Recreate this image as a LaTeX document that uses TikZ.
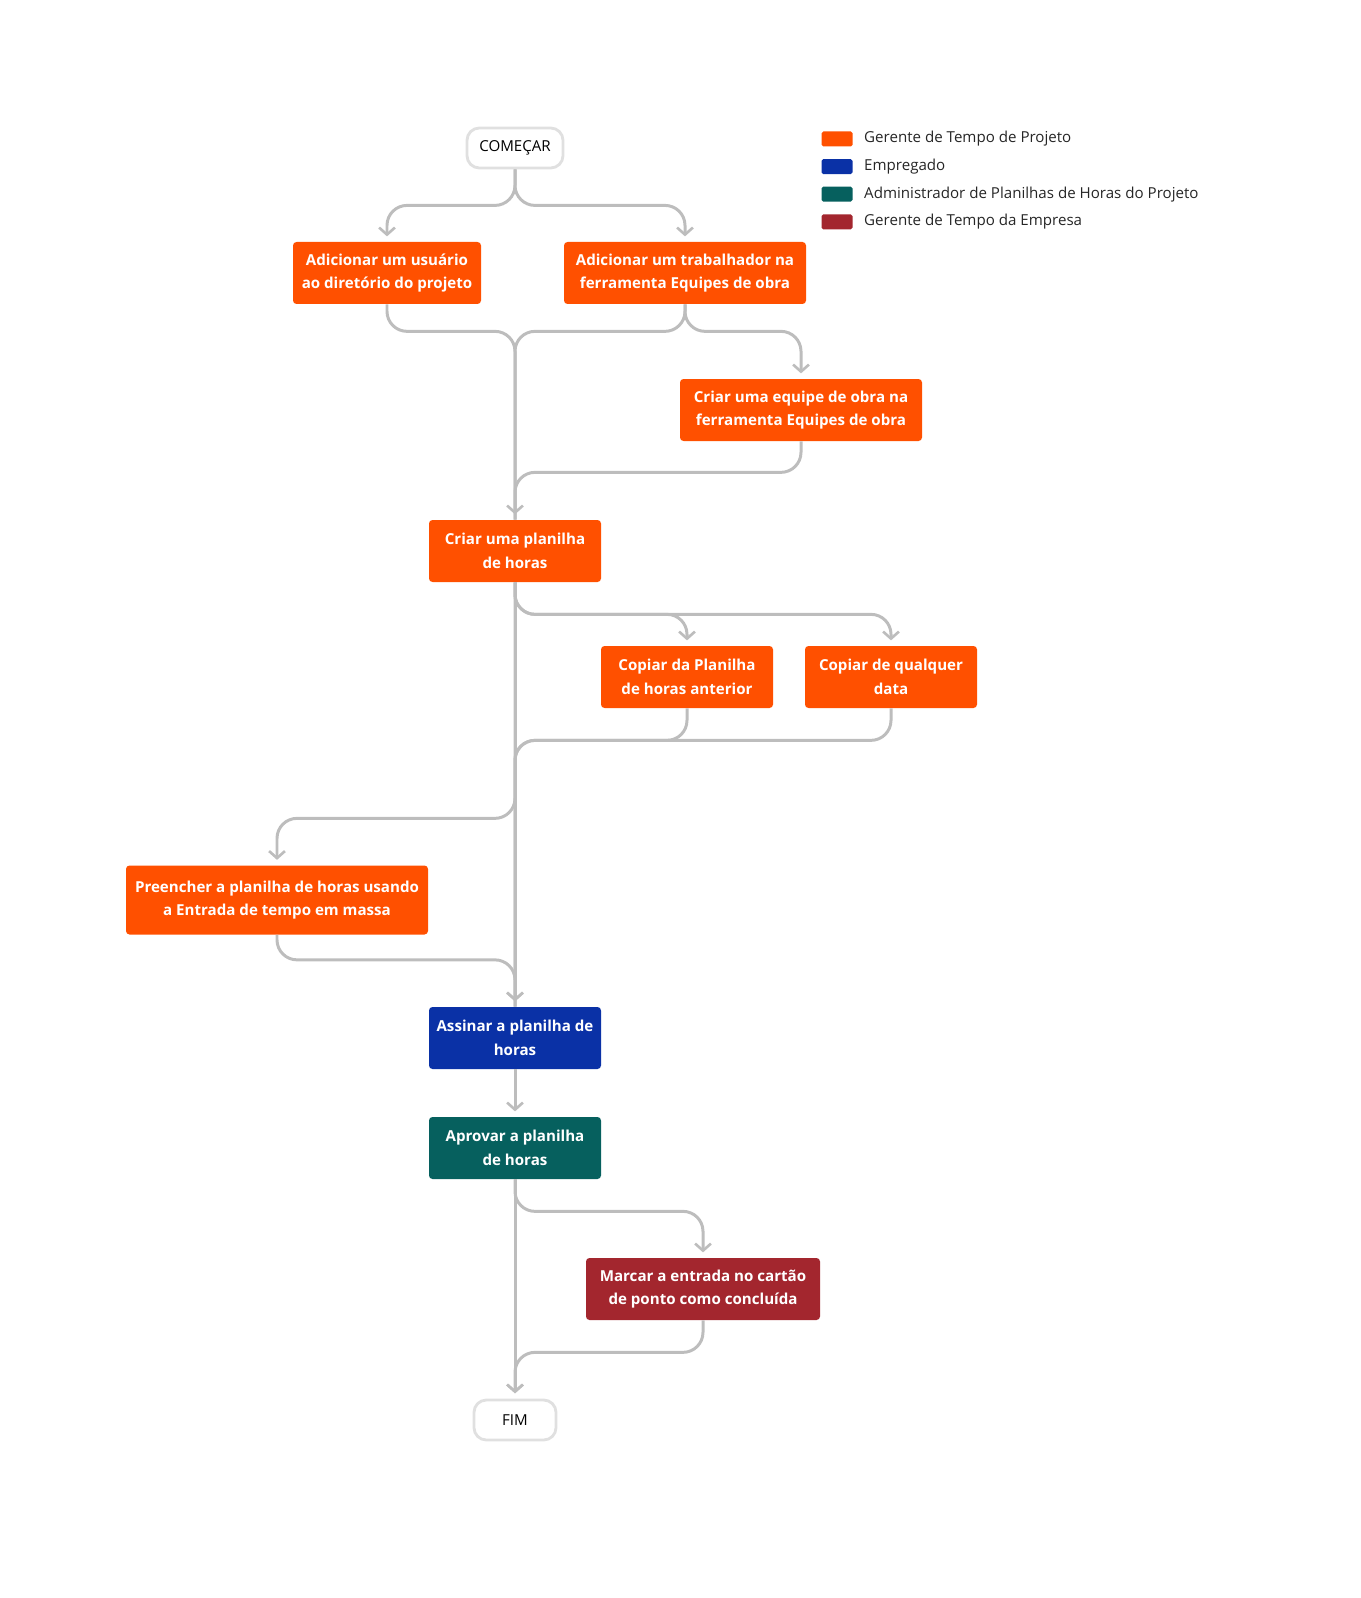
\documentclass[tikz,border=0pt]{standalone}
\usepackage{fontspec}
\setmainfont{Open Sans}
\usetikzlibrary{arrows.meta,positioning,calc}
\definecolor{mgr}{HTML}{FF5000}
\definecolor{emp}{HTML}{0A31A6}
\definecolor{adm}{HTML}{06605E}
\definecolor{cmp}{HTML}{A3262E}
\definecolor{wire}{HTML}{BDBDBD}
\tikzset{
box/.style={rounded corners=2pt,text=white,font=\fontsize{8.6}{13.5}\selectfont\bfseries,align=center,minimum height={62*0.02cm},minimum width={#1*0.02cm},inner sep=1pt},
term/.style={draw=black!12,line width=1.6pt,rounded corners=7pt,fill=white,font=\fontsize{8.6}{11}\selectfont,minimum height={40*0.02cm},minimum width={#1*0.02cm}},
flow/.style={draw=wire,line width=1.7pt,rounded corners=0.4cm},
arr/.style={flow,-{Straight Barb[length=4pt,width=9pt,line width=1.5pt]},shorten >=3pt},
swatch/.style={fill=#1,rounded corners=1pt,minimum width={31*0.02cm},minimum height={15*0.02cm},inner sep=0pt},
legtext/.style={font=\fontsize{8.6}{11}\selectfont,text=black!85,anchor=west,inner sep=0pt},
}
\begin{document}
\begin{tikzpicture}[x=0.02cm,y=-0.02cm]
\useasboundingbox (0,0) rectangle (1360,1598);
% terminais
\node[term=96] (start) at (515,148) {COMEÇAR};
\node[term=82] (end) at (515,1420) {FIM};
% etapas
\node[box=188,fill=mgr] (user) at (387,273) {Adicionar um usuário\\ao diretório do projeto};
\node[box=242,fill=mgr] (worker) at (685,273) {Adicionar um trabalhador na\\ferramenta Equipes de obra};
\node[box=242,fill=mgr] (crew) at (801,410) {Criar uma equipe de obra na\\ferramenta Equipes de obra};
\node[box=172,fill=mgr] (sheet) at (515,551) {Criar uma planilha\\de horas};
\node[box=172,fill=mgr] (copyprev) at (687,677) {Copiar da Planilha\\de horas anterior};
\node[box=172,fill=mgr] (copyany) at (891,677) {Copiar de qualquer\\data};
\node[box=302,fill=mgr,minimum height={69*0.02cm}] (bulk) at (277,900) {Preencher a planilha de horas usando\\a Entrada de tempo em massa};
\node[box=172,fill=emp] (sign) at (515,1038) {Assinar a planilha de\\horas};
\node[box=172,fill=adm] (approve) at (515,1148) {Aprovar a planilha\\de horas};
\node[box=234,fill=cmp] (punch) at (703,1289) {Marcar a entrada no cartão\\de ponto como concluída};
% conexoes
\draw[arr] (start.south) -- ++(0,36) -| (user.north);
\draw[arr] (start.south) -- ++(0,36) -| (worker.north);
\draw[flow] (user.south) -- ++(0,27) -| (sheet.north);
\draw[flow] (worker.south) -- ++(0,27) -| (sheet.north);
\draw[arr] (worker.south) -- ++(0,27) -| (crew.north);
\draw[arr] (crew.south) -- ++(0,31) -| (sheet.north);
\draw[arr] (sheet.south) -- ++(0,32) -| (copyprev.north);
\draw[arr] (sheet.south) -- ++(0,32) -| (copyany.north);
\draw[flow] (copyprev.south) -- ++(0,32) -| (sign.north);
\draw[flow] (copyany.south) -- ++(0,32) -| (sign.north);
\draw[arr] (sheet.south) -- ++(0,236) -| (bulk.north);
\draw[arr] (sheet.south) -- (sign.north);
\draw[arr] (bulk.south) -- ++(0,25) -| (sign.north);
\draw[arr] (sign.south) -- (approve.north);
\draw[arr] (approve.south) -- ++(0,32) -| (punch.north);
\draw[arr] (approve.south) -- (end.north);
\draw[arr] (punch.south) -- ++(0,32) -| (end.north);
% legenda
\foreach \c/\t [count=\i] in {mgr/Gerente de Tempo de Projeto,emp/Empregado,adm/Administrador de Planilhas de Horas do Projeto,cmp/Gerente de Tempo da Empresa}{
  \node[swatch=\c] (sw\i) at (837,{139+27.6*(\i-1)}) {};
  \node[legtext,right=11*0.02cm of sw\i] (lt\i) {\t};
}
\end{tikzpicture}
\end{document}
